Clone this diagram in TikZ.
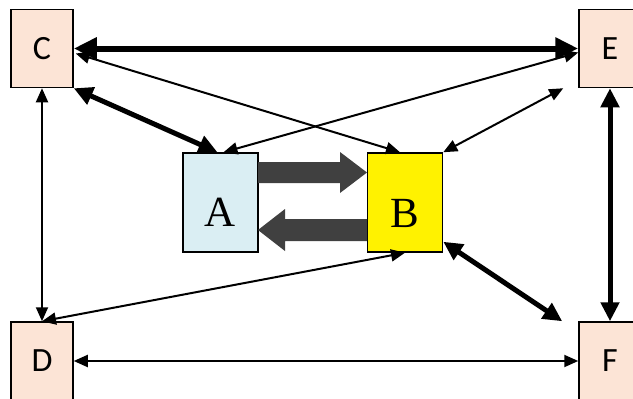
\documentclass[tikz,border=0pt]{standalone}
\usepackage{fontspec}
\setmainfont{Liberation Serif}
\newfontfamily\cfont{Carlito}
\usetikzlibrary{arrows.meta,calc}
\definecolor{peach}{HTML}{FCE4D6}
\definecolor{lblue}{HTML}{DAEEF3}
\definecolor{fatgray}{HTML}{404040}
\begin{document}
\begin{tikzpicture}[x=1pt,y=-1pt,
 outer box/.style={draw=black, line width=1.5pt, fill=peach, minimum width=62pt, minimum height=78pt, inner sep=0pt, font=\cfont\fontsize{34}{34}\selectfont},
 inner box/.style={draw=black, line width=1.5pt, minimum width=75pt, minimum height=99pt, inner sep=0pt, text height=0pt, text depth=0pt, font=\fontsize{43}{43}\selectfont},
 thin link/.style={line width=2pt, {Triangle[length=14pt,width=12pt]}-{Triangle[length=14pt,width=12pt]}},
 thick link/.style={line width=5pt, {Triangle[length=19pt,width=18pt]}-{Triangle[length=19pt,width=18pt]}},
 heavy link/.style={line width=6pt, {Triangle[length=23pt,width=21pt]}-{Triangle[length=23pt,width=21pt]}},
 fat arrow/.style={fill=fatgray}]
\useasboundingbox (0,0) rectangle (633,399);
\fill[white] (0,0) rectangle (633,399);
\clip (0,0) rectangle (633,399);

\node[outer box] (C) at (42,48.5) {C};
\node[outer box] (E) at (610,48.5) {E};
\node[outer box] (D) at (42,361) {D};
\node[outer box] (F) at (610,361) {F};
\node[inner box, fill=lblue] (A) at (220.5,202.5) {\raisebox{-24pt}{A}};
\node[inner box, fill=yellow] (B) at (405,202.5) {\raisebox{-25pt}{B}};

% fat arrows
\fill[fat arrow] (258,162) -- (340,162) -- (340,152) -- (367,172.5) -- (340,193) -- (340,183) -- (258,183) -- cycle;
\fill[fat arrow] (367,219) -- (285,219) -- (285,209) -- (258,230) -- (285,251) -- (285,241) -- (367,241) -- cycle;

% connectors
\draw[heavy link] (C.east) -- (E.west);
\draw[thin link] ([xshift=2pt,yshift=-5pt]C.east) -- ([xshift=-5pt]B.north);
\draw[thin link] ([yshift=-4pt]E.west) -- ([xshift=3pt]A.north);
\draw[thick link] (C.south east) -- ([xshift=-3pt]A.north);
\draw[thin link] ([xshift=-15pt]E.south west) -- (B.north east);
\draw[thin link] (C.south) -- (D.north);
\draw[thick link] (E.south) -- (F.north);
\draw[thin link] (B.south) -- (D.north);
\draw[thick link] ([yshift=11pt]B.south east) -- ([xshift=-16pt]F.north west);
\draw[thin link] (D.east) -- (F.west);
\end{tikzpicture}
\end{document}
